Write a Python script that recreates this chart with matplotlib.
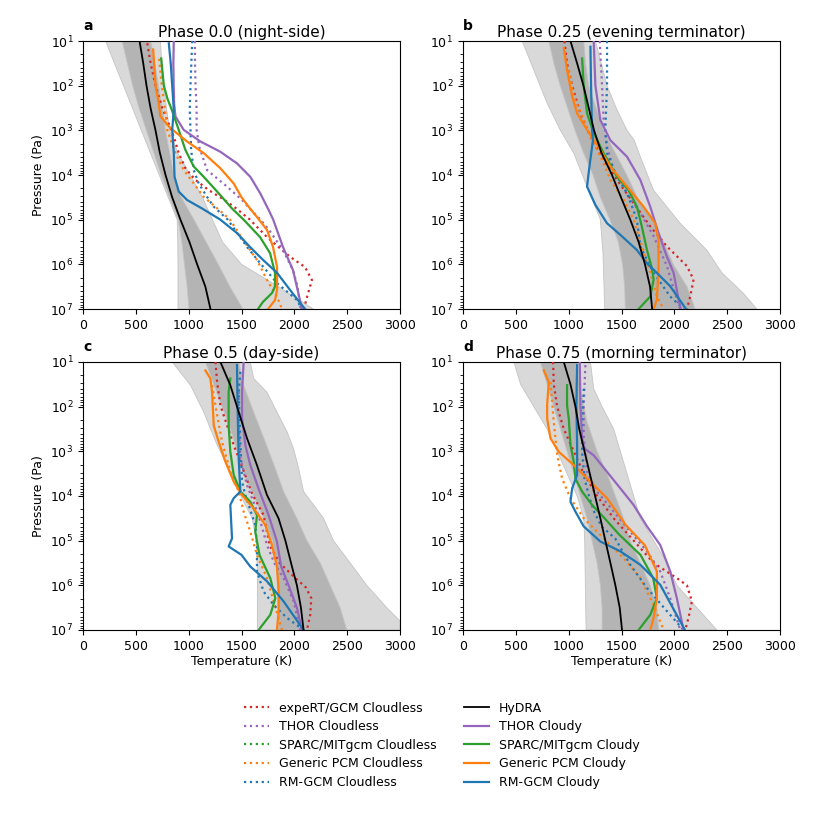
import matplotlib
matplotlib.use("Agg")
import matplotlib.pyplot as plt
from matplotlib.lines import Line2D

# ---------------- text ----------------
TITLES = ["Phase 0.0 (night-side)", "Phase 0.25 (evening terminator)",
          "Phase 0.5 (day-side)", "Phase 0.75 (morning terminator)"]
LETTERS = ["a", "b", "c", "d"]
X_TICKS = [0, 500, 1000, 1500, 2000, 2500, 3000]
Y_TICKS = [1e1, 1e2, 1e3, 1e4, 1e5, 1e6, 1e7]

# ---------------- data: (log10 P [Pa], T [K]) ----------------
# Panel a : phase 0.0
A_LIGHT_LO = [(1, 214), (1.5, 298), (2, 383), (2.5, 468), (3, 552), (3.5, 637), (4, 722), (4.5, 806), (5, 891), (5.5, 897), (6, 899), (7, 899)]
A_LIGHT_HI = [(1, 733), (1.5, 745), (2, 765), (2.5, 790), (3, 820), (3.5, 895), (4, 1015), (4.5, 1130), (5, 1225), (5.5, 1320), (6, 1500), (6.5, 1850), (7, 2180)]
A_DARK_LO = [(1, 370), (1.5, 420), (2, 470), (2.5, 530), (3, 600), (3.5, 670), (4, 740), (4.5, 820), (5, 900), (5.5, 935), (6, 960), (6.5, 985), (7, 1003)]
A_DARK_HI = [(1, 640), (1.5, 680), (2, 715), (2.5, 750), (3, 780), (3.5, 820), (4, 860), (4.5, 930), (5, 1050), (5.5, 1165), (6, 1280), (6.5, 1390), (7, 1514)]
A_HYDRA = [(1, 535), (1.5, 570), (2, 601), (2.5, 639), (3, 686), (3.5, 727), (4, 781), (4.5, 844), (5, 922), (5.5, 1007), (6, 1080), (6.5, 1158), (7, 1206)]
A_EXPERT_CL = [(1.05, 608), (1.5, 640), (2, 686), (2.5, 750), (2.9, 820), (3.14, 859), (3.51, 906), (3.85, 969), (4.11, 1064), (4.34, 1190), (4.56, 1340), (4.75, 1450), (5, 1580), (5.39, 1741), (5.83, 1958), (6.06, 2100), (6.35, 2166), (6.73, 2120), (7, 2090)]
A_THOR_CL = [(1, 1058), (1.5, 1060), (2, 1065), (2.54, 1075), (2.99, 1075), (3.37, 1100), (3.89, 1174), (4.26, 1363), (4.56, 1505), (4.78, 1590), (5, 1680), (5.23, 1760), (5.68, 1892), (6.13, 1987), (6.5, 2030), (7, 2060)]
A_PCM_CL = [(1.4, 720), (2, 745), (2.5, 775), (2.99, 797), (3.51, 875), (3.89, 953), (4.19, 1048), (4.49, 1142), (4.71, 1253), (5, 1391), (5.45, 1514), (5.9, 1646), (6.35, 1741), (6.73, 1836), (7, 1883)]
A_RM_CL = [(1, 1033), (2, 1017), (2.54, 1010), (2.99, 1017), (3.44, 1023), (3.89, 1048), (4.19, 1095), (4.49, 1174), (4.71, 1237), (5, 1370), (5.61, 1552), (5.97, 1675), (6.42, 1836), (6.8, 2025), (7, 2070)]
A_THOR_CY = [(1, 859), (1.5, 855), (2, 858), (2.4, 862), (2.69, 875), (2.99, 953), (3.25, 1111), (3.48, 1300), (3.74, 1457), (4.04, 1583), (4.41, 1677), (4.78, 1756), (5, 1800), (5.61, 1892), (6.13, 1987), (6.8, 2053), (7, 2070)]
A_SPARC_CY = [(1.39, 740), (2, 765), (2.3, 800), (2.54, 840), (2.99, 906), (3.44, 969), (3.81, 1048), (4.04, 1142), (4.37, 1269), (4.75, 1410), (5, 1520), (5.39, 1675), (5.75, 1770), (6.19, 1817), (6.49, 1817), (6.64, 1789), (6.84, 1703), (7, 1656)]
A_PCM_CY = [(1.19, 664), (2, 686), (2.32, 712), (2.69, 733), (2.95, 828), (3.25, 985), (3.51, 1142), (3.85, 1300), (4.19, 1426), (4.5, 1500), (4.75, 1580), (4.94, 1646), (5.23, 1741), (5.61, 1798), (6.06, 1836), (6.57, 1836), (6.8, 1817), (7, 1751)]
A_RM_CY = [(1.05, 812), (1.5, 830), (2, 844), (2.54, 859), (2.99, 844), (3.51, 859), (4.04, 866), (4.37, 906), (4.56, 985), (4.75, 1127), (5, 1300), (5.3, 1457), (5.61, 1580), (5.9, 1703), (6.19, 1836), (6.57, 1958), (7, 2100)]

# Panel b : phase 0.25
B_LIGHT_LO = [(1, 560), (1.65, 670), (2.39, 796), (3, 922), (3.51, 1048), (4.26, 1174), (5, 1300), (5.75, 1325), (7, 1341)]
B_LIGHT_HI = [(1, 1253), (2, 1363), (2.54, 1457), (3, 1552), (3.22, 1620), (3.59, 1678), (4.34, 1803), (5.08, 2055), (5.68, 2307), (6.19, 2450), (6.64, 2650), (7, 2780)]
B_DARK_LO = [(1, 812), (1.5, 860), (2, 920), (2.5, 990), (3, 1060), (3.5, 1140), (4, 1230), (4.5, 1300), (5, 1390), (5.5, 1470), (6, 1510), (6.5, 1530), (7, 1536)]
B_DARK_HI = [(1, 1143), (1.5, 1160), (2, 1190), (2.5, 1260), (3, 1330), (3.5, 1440), (4, 1550), (4.5, 1650), (5, 1790), (5.5, 1900), (6, 1990), (6.5, 2120), (7, 2197)]
B_HYDRA = [(1, 1017), (1.5, 1080), (2, 1140), (2.5, 1190), (3, 1240), (3.5, 1310), (4, 1410), (4.5, 1495), (5, 1583), (5.5, 1662), (6, 1722), (6.5, 1770), (7, 1790)]
B_EXPERT_CL = [(1, 960), (1.5, 985), (2, 1033), (2.62, 1111), (3.14, 1206), (3.66, 1331), (4.11, 1457), (4.63, 1615), (5.15, 1772), (5.6, 1930), (6.04, 2119), (6.34, 2182), (6.72, 2150), (7, 2119)]
B_THOR_CL = [(1, 1294), (2, 1316), (2.77, 1331), (3.36, 1363), (3.88, 1426), (4.41, 1552), (4.85, 1678), (5.37, 1804), (6.04, 1930), (6.79, 2024), (7, 2056)]
B_PCM_CL = [(1.65, 1001), (2.24, 1048), (2.77, 1143), (3.29, 1237), (3.66, 1316), (4.11, 1395), (4.55, 1520), (5, 1615), (5.6, 1694), (6.19, 1772), (6.72, 1835), (7, 1898)]
B_RM_CL = [(1, 1363), (2, 1363), (2.99, 1347), (3.51, 1363), (3.96, 1442), (4.41, 1552), (5, 1646), (5.6, 1678), (6.19, 1804), (6.72, 1961), (7, 2087)]
B_THOR_CY = [(1, 1237), (2, 1253), (2.77, 1300), (3.22, 1394), (3.59, 1552), (4.11, 1678), (4.71, 1772), (5.3, 1850), (5.83, 1930), (6.19, 1993), (6.79, 2040), (7, 2060)]
B_SPARC_CY = [(1.39, 1127), (2.02, 1143), (2.62, 1174), (3.06, 1237), (3.51, 1331), (4.04, 1457), (4.34, 1567), (4.71, 1646), (5.16, 1693), (5.68, 1741), (6.09, 1788), (6.34, 1804), (6.72, 1772), (7, 1662)]
B_PCM_CY = [(1.16, 954), (1.65, 985), (2.24, 1033), (2.62, 1080), (2.99, 1174), (3.36, 1280), (3.81, 1394), (4.26, 1552), (4.71, 1709), (5.08, 1819), (5.45, 1850), (6.09, 1850), (6.79, 1835), (7, 1804)]
B_RM_CY = [(1.13, 1206), (2, 1212), (2.99, 1221), (3.22, 1230), (3.66, 1205), (3.96, 1189), (4.26, 1174), (4.67, 1253), (5.08, 1363), (5.34, 1489), (5.68, 1646), (5.98, 1741), (6.12, 1804), (6.49, 1961), (7, 2110)]

# Panel c : phase 0.5
C_LIGHT_LO = [(1, 844), (1.52, 1017), (2.12, 1142), (2.86, 1269), (3.46, 1394), (3.98, 1490), (4.5, 1600), (5, 1640), (5.69, 1650), (7, 1650)]
C_LIGHT_HI = [(1, 1583), (1.37, 1615), (1.68, 1741), (2.12, 1835), (2.56, 1930), (2.94, 1992), (3.38, 2040), (3.9, 2087), (4.5, 2276), (5, 2370), (5.5, 2528), (6, 2685), (6.5, 2874), (6.8, 3000), (7, 3000)]
C_DARK_LO = [(1, 1158), (1.5, 1237), (2, 1316), (2.5, 1395), (3, 1458), (3.5, 1520), (4, 1615), (4.5, 1709), (5, 1790), (5.5, 1830), (6, 1845), (7, 1850)]
C_DARK_HI = [(1, 1473), (1.52, 1520), (2.12, 1615), (2.79, 1725), (3.38, 1819), (3.9, 1898), (4.5, 2024), (5, 2119), (5.5, 2245), (6, 2339), (6.5, 2433), (7, 2496)]
C_HYDRA = [(1, 1300), (1.52, 1394), (2.12, 1473), (2.71, 1552), (3.31, 1646), (3.98, 1741), (4.5, 1850), (5, 1915), (5.58, 1977), (6, 2024), (6.5, 2062), (7, 2087)]
C_EXPERT_CL = [(1, 1253), (1.45, 1269), (1.97, 1300), (2.42, 1363), (2.86, 1426), (3.38, 1510), (3.95, 1600), (4.43, 1709), (5.1, 1765), (5.5, 1860), (5.84, 2010), (6.05, 2110), (6.29, 2160), (6.66, 2150), (7, 2119)]
C_THOR_CL = [(1.67, 1473), (2.42, 1473), (3.16, 1489), (3.76, 1552), (4.3, 1640), (4.57, 1678), (5.1, 1741), (5.5, 1810), (5.84, 1898), (6.36, 1993), (7, 2056)]
C_PCM_CL = [(1.52, 1221), (2.19, 1269), (2.79, 1316), (3.46, 1394), (3.9, 1473), (4.35, 1520), (4.8, 1583), (5.32, 1646), (5.84, 1741), (6.36, 1804), (7, 1883)]
C_RM_CL = [(1.22, 1489), (1.67, 1473), (2.79, 1489), (3.68, 1505), (3.98, 1536), (4.65, 1630), (5.1, 1646), (5.69, 1646), (6.14, 1709), (6.44, 1804), (6.73, 1930), (7, 2087)]
C_THOR_CY = [(1, 1520), (1.67, 1505), (2.27, 1505), (2.86, 1536), (3.31, 1583), (3.83, 1660), (4.43, 1756), (5.02, 1835), (5.58, 1875), (6, 1945), (6.5, 2024), (7, 2071)]
C_SPARC_CY = [(1.37, 1394), (1.67, 1378), (2.42, 1378), (3.01, 1394), (3.53, 1426), (3.9, 1489), (4.13, 1583), (4.43, 1646), (4.8, 1630), (5.32, 1670), (5.84, 1772), (6.29, 1820), (6.66, 1772), (7, 1662)]
C_PCM_CY = [(1.19, 1158), (1.37, 1205), (1.67, 1221), (2.42, 1237), (2.79, 1284), (3.23, 1347), (3.68, 1426), (3.98, 1505), (4.28, 1615), (4.65, 1725), (5.1, 1788), (5.58, 1835), (6.14, 1851), (6.58, 1851), (7, 1835)]
C_RM_CY = [(1.07, 1457), (2.04, 1463), (3.16, 1473), (3.9, 1489), (4.05, 1426), (4.2, 1394), (4.95, 1410), (5.13, 1378), (5.32, 1500), (5.58, 1583), (5.91, 1741), (6.36, 1898), (7, 2087)]

# Panel d : phase 0.75
D_LIGHT_LO = [(1, 482), (1.5, 545), (2, 670), (2.5, 796), (3, 891), (3.5, 985), (4, 1080), (4.5, 1143), (5, 1152), (6, 1158), (7, 1165)]
D_LIGHT_HI = [(1, 1206), (1.6, 1237), (2, 1316), (2.5, 1426), (3, 1489), (3.5, 1552), (4, 1615), (4.5, 1678), (5, 1804), (5.5, 1930), (6, 2024), (6.5, 2213), (7, 2402)]
D_DARK_LO = [(1, 733), (1.5, 796), (2, 859), (2.5, 922), (3, 985), (3.5, 1048), (4, 1111), (4.5, 1174), (5, 1221), (5.5, 1269), (6, 1300), (6.5, 1316), (7, 1316)]
D_DARK_HI = [(1, 1080), (1.6, 1111), (2.34, 1174), (3, 1269), (3.5, 1363), (4, 1442), (4.5, 1520), (5, 1583), (5.5, 1678), (6, 1772), (6.5, 1835), (7, 1851)]
D_HYDRA = [(1, 954), (1.5, 1017), (2, 1064), (2.5, 1100), (3, 1150), (3.5, 1200), (4, 1250), (4.5, 1300), (5, 1347), (5.5, 1395), (6, 1442), (6.5, 1483), (7, 1505)]
D_EXPERT_CL = [(1, 853), (1.5, 859), (2, 891), (2.5, 954), (3, 1048), (3.5, 1143), (4, 1269), (4.5, 1426), (5, 1615), (5.5, 1804), (5.84, 2024), (6, 2119), (6.36, 2166), (6.73, 2134), (7, 2103)]
D_THOR_CL = [(1.07, 1158), (1.97, 1143), (2.71, 1143), (3.46, 1174), (3.9, 1269), (4.35, 1426), (4.8, 1583), (5.24, 1741), (5.69, 1867), (6.29, 1961), (7, 2056)]
D_PCM_CL = [(1.45, 828), (2.34, 859), (3.08, 891), (3.61, 938), (4.05, 1017), (4.5, 1143), (4.95, 1331), (5.39, 1520), (5.84, 1678), (6.44, 1804), (7, 1898)]
D_RM_CL = [(1.6, 1143), (2.34, 1127), (3.01, 1127), (3.61, 1150), (3.98, 1190), (4.35, 1240), (4.68, 1310), (4.95, 1440), (5.54, 1583), (6.06, 1741), (6.58, 1930), (7, 2087)]
D_THOR_CY = [(1, 1105), (1.97, 1111), (2.71, 1127), (2.94, 1150), (3.09, 1237), (3.46, 1363), (3.83, 1489), (4.2, 1614), (4.68, 1741), (5.1, 1867), (5.69, 1961), (6.29, 2024), (7, 2087)]
D_SPARC_CY = [(1.52, 985), (1.97, 985), (2.27, 1001), (2.86, 1017), (3.23, 1048), (3.61, 1064), (3.9, 1127), (4.2, 1221), (4.5, 1340), (4.87, 1480), (5.32, 1680), (5.84, 1800), (6.29, 1835), (6.66, 1772), (7, 1662)]
D_PCM_CY = [(1.19, 765), (1.45, 812), (1.97, 796), (2.27, 797), (2.71, 828), (3.01, 906), (3.31, 1048), (3.68, 1205), (4.05, 1363), (4.65, 1540), (5.1, 1720), (5.69, 1835), (6.29, 1835), (6.73, 1804), (7, 1772)]
D_RM_CY = [(1.07, 1080), (1.97, 1073), (2.86, 1080), (3.53, 1080), (3.83, 1033), (4.13, 1017), (4.35, 1064), (4.68, 1142), (5.02, 1300), (5.24, 1489), (5.54, 1678), (5.99, 1867), (7, 2100)]

PANELS = [
    dict(light=(A_LIGHT_LO, A_LIGHT_HI), dark=(A_DARK_LO, A_DARK_HI), hydra=A_HYDRA,
         expert_cl=A_EXPERT_CL, thor_cl=A_THOR_CL, pcm_cl=A_PCM_CL, rm_cl=A_RM_CL,
         thor_cy=A_THOR_CY, sparc_cy=A_SPARC_CY, pcm_cy=A_PCM_CY, rm_cy=A_RM_CY),
    dict(light=(B_LIGHT_LO, B_LIGHT_HI), dark=(B_DARK_LO, B_DARK_HI), hydra=B_HYDRA,
         expert_cl=B_EXPERT_CL, thor_cl=B_THOR_CL, pcm_cl=B_PCM_CL, rm_cl=B_RM_CL,
         thor_cy=B_THOR_CY, sparc_cy=B_SPARC_CY, pcm_cy=B_PCM_CY, rm_cy=B_RM_CY),
    dict(light=(C_LIGHT_LO, C_LIGHT_HI), dark=(C_DARK_LO, C_DARK_HI), hydra=C_HYDRA,
         expert_cl=C_EXPERT_CL, thor_cl=C_THOR_CL, pcm_cl=C_PCM_CL, rm_cl=C_RM_CL,
         thor_cy=C_THOR_CY, sparc_cy=C_SPARC_CY, pcm_cy=C_PCM_CY, rm_cy=C_RM_CY),
    dict(light=(D_LIGHT_LO, D_LIGHT_HI), dark=(D_DARK_LO, D_DARK_HI), hydra=D_HYDRA,
         expert_cl=D_EXPERT_CL, thor_cl=D_THOR_CL, pcm_cl=D_PCM_CL, rm_cl=D_RM_CL,
         thor_cy=D_THOR_CY, sparc_cy=D_SPARC_CY, pcm_cy=D_PCM_CY, rm_cy=D_RM_CY),
]

# ---------------- styles ----------------
STYLES = {
    "expert_cl": ("tab:red", ":", "expeRT/GCM Cloudless"),
    "thor_cl": ("tab:purple", ":", "THOR Cloudless"),
    "sparc_cl": ("tab:green", ":", "SPARC/MITgcm Cloudless"),
    "pcm_cl": ("tab:orange", ":", "Generic PCM Cloudless"),
    "rm_cl": ("tab:blue", ":", "RM-GCM Cloudless"),
    "hydra": ("black", "-", "HyDRA"),
    "thor_cy": ("tab:purple", "-", "THOR Cloudy"),
    "sparc_cy": ("tab:green", "-", "SPARC/MITgcm Cloudy"),
    "pcm_cy": ("tab:orange", "-", "Generic PCM Cloudy"),
    "rm_cy": ("tab:blue", "-", "RM-GCM Cloudy"),
}
LEGEND_ORDER = ["expert_cl", "thor_cl", "sparc_cl", "pcm_cl", "rm_cl",
                "hydra", "thor_cy", "sparc_cy", "pcm_cy", "rm_cy"]
DRAW_ORDER = ["expert_cl", "thor_cl", "pcm_cl", "rm_cl",
              "thor_cy", "sparc_cy", "pcm_cy", "rm_cy", "hydra"]

RECTS = [[0.100, 0.6277, 0.382, 0.3229], [0.5578, 0.6277, 0.382, 0.3229],
         [0.100, 0.2410, 0.382, 0.3229], [0.5578, 0.2410, 0.382, 0.3229]]


def split(pts):
    t = [p[1] for p in pts]
    pr = [10 ** p[0] for p in pts]
    return t, pr


def band(ax, lo, hi, color):
    tl, pl = split(lo)
    th, ph = split(hi)
    ax.fill(tl + th[::-1], pl + ph[::-1], facecolor=color, edgecolor="#c4c4c4",
            linewidth=0.6, zorder=1)


fig = plt.figure(figsize=(8.3, 8.3), dpi=100)
for i, panel in enumerate(PANELS):
    ax = fig.add_axes(RECTS[i])
    band(ax, *panel["light"], "#d9d9d9")
    band(ax, *panel["dark"], "#b4b4b4")
    for key in DRAW_ORDER:
        col, ls, lab = STYLES[key]
        t, pr = split(panel[key])
        lw = 1.3 if key == "hydra" else 1.6
        ax.plot(t, pr, color=col, linestyle=ls, linewidth=lw, zorder=3)
    ax.set_yscale("log")
    ax.set_ylim(1e7, 1e1)
    ax.set_xlim(0, 3000)
    ax.set_xticks(X_TICKS)
    ax.set_yticks(Y_TICKS)
    ax.tick_params(labelsize=9)
    ax.set_title(TITLES[i], fontsize=11, pad=3)
    ax.text(0.0, 1.03, LETTERS[i], transform=ax.transAxes, fontweight="bold",
            fontsize=10, ha="left", va="bottom")
    if i in (0, 2):
        ax.set_ylabel("Pressure (Pa)", fontsize=9)
    if i in (2, 3):
        ax.set_xlabel("Temperature (K)", fontsize=9, labelpad=2)

handles = [Line2D([], [], color=STYLES[k][0], linestyle=STYLES[k][1],
                  linewidth=1.3 if k == "hydra" else 1.6) for k in LEGEND_ORDER]
labels = [STYLES[k][2] for k in LEGEND_ORDER]
fig.legend(handles, labels, ncol=2, loc="center", bbox_to_anchor=(0.532, 0.102),
           frameon=False, fontsize=9, columnspacing=2.2, handlelength=2.0,
           labelspacing=0.45)

fig.savefig("out.png", dpi=100)
